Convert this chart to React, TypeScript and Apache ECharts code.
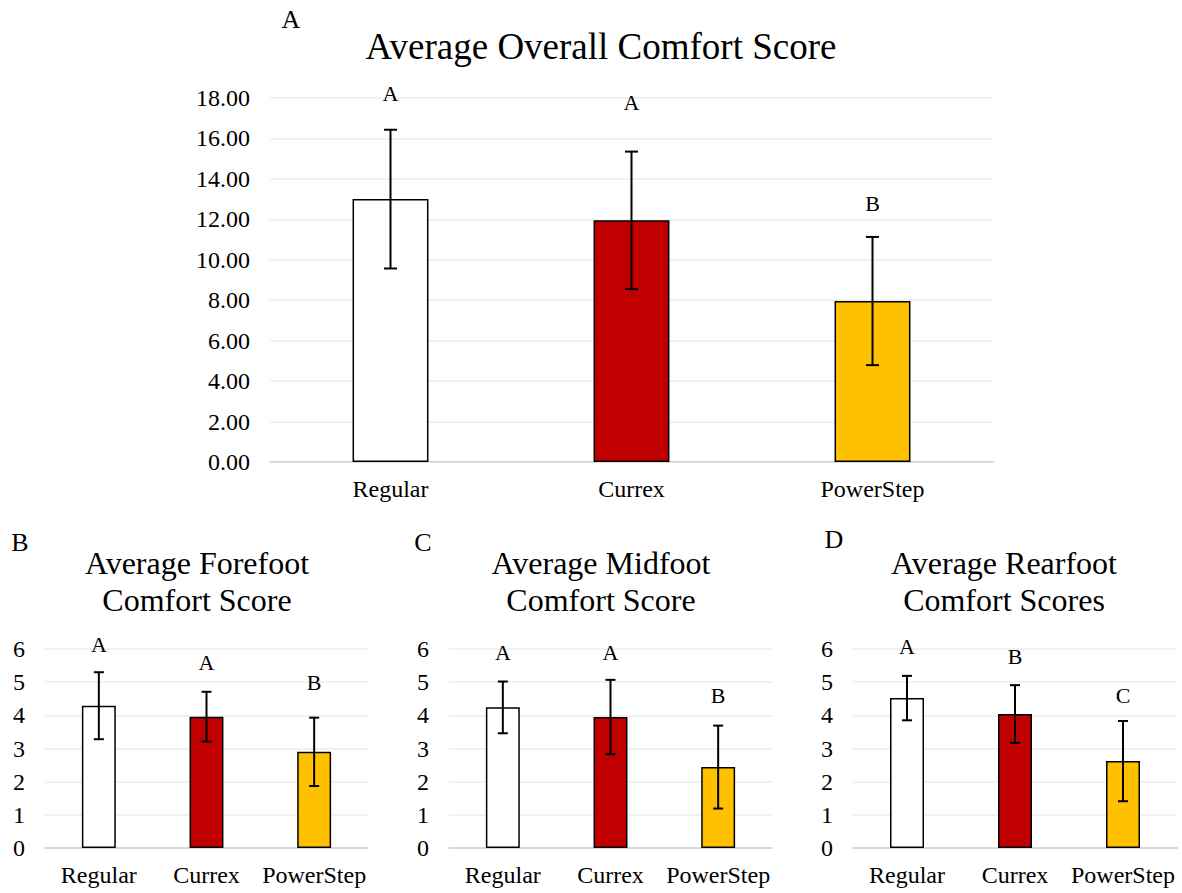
import React, { useEffect, useRef } from "react";
import * as echarts from "echarts";

const categories = ["Regular", "Currex", "PowerStep"];
const barColors = ["#FFFFFF", "#C00000", "#FFC000"];

const overallMeans = [13.0, 11.95, 7.96];
const overallErr = [3.43, 3.4, 3.17];
const overallLetters = ["A", "A", "B"];
const overallLetterY = [18.2, 17.8, 12.76];

const forefootMeans = [4.29, 3.96, 2.9];
const forefootErr = [1.01, 0.75, 1.03];
const forefootLetters = ["A", "A", "B"];
const forefootLetterY = [6.15, 5.59, 4.98];

const midfootMeans = [4.24, 3.95, 2.44];
const midfootErr = [0.78, 1.12, 1.25];
const midfootLetters = ["A", "A", "B"];
const midfootLetterY = [5.9, 5.9, 4.6];

const rearfootMeans = [4.52, 4.04, 2.62];
const rearfootErr = [0.67, 0.87, 1.21];
const rearfootLetters = ["A", "B", "C"];
const rearfootLetterY = [6.07, 5.77, 4.6];

const FONT = "'Liberation Serif', 'Times New Roman', serif";

const panels = [
  { means: overallMeans, err: overallErr, letters: overallLetters, letterY: overallLetterY, max: 18, interval: 2, decimals: 2, cap: 13,
    grid: { left: 270, top: 98, width: 723, height: 364 } },
  { means: forefootMeans, err: forefootErr, letters: forefootLetters, letterY: forefootLetterY, max: 6, interval: 1, decimals: 0, cap: 10,
    grid: { left: 45, top: 649, width: 323, height: 199 } },
  { means: midfootMeans, err: midfootErr, letters: midfootLetters, letterY: midfootLetterY, max: 6, interval: 1, decimals: 0, cap: 10,
    grid: { left: 449, top: 649, width: 323, height: 199 } },
  { means: rearfootMeans, err: rearfootErr, letters: rearfootLetters, letterY: rearfootLetterY, max: 6, interval: 1, decimals: 0, cap: 10,
    grid: { left: 853, top: 649, width: 324, height: 199 } },
];

function text(x: number, y: number, t: string, size: number) {
  return {
    type: "text",
    x,
    y,
    style: { text: t, fill: "#000", fontSize: size, fontFamily: FONT, align: "center", verticalAlign: "middle" },
  };
}

export default function App() {
  const ref = useRef<HTMLDivElement>(null);
  useEffect(() => {
    if (!ref.current) return;
    const chart = echarts.init(ref.current, null, { renderer: "svg" });
    const grids: any[] = [];
    const xAxes: any[] = [];
    const yAxes: any[] = [];
    const series: any[] = [];
    panels.forEach((p, k) => {
      grids.push({ ...p.grid, containLabel: false });
      xAxes.push({
        type: "category",
        gridIndex: k,
        data: categories,
        axisLine: { show: true, lineStyle: { color: "#d9d9d9", width: 2 } },
        axisTick: { show: false },
        axisLabel: { color: "#000", fontSize: 24, fontFamily: FONT, margin: 15, interval: 0, hideOverlap: false },
      });
      yAxes.push({
        type: "value",
        gridIndex: k,
        min: 0,
        max: p.max,
        interval: p.interval,
        axisLine: { show: false },
        axisTick: { show: false },
        splitLine: { lineStyle: { color: "#ececec", width: 1.5 } },
        axisLabel: {
          color: "#000",
          fontSize: 24,
          fontFamily: FONT,
          margin: 20,
          formatter: (v: number) => v.toFixed(p.decimals),
        },
      });
      series.push({
        type: "bar",
        xAxisIndex: k,
        yAxisIndex: k,
        barWidth: "31.5%",
        data: p.means.map((m, i) => ({
          value: m,
          itemStyle: { color: barColors[i], borderColor: "#000", borderWidth: 1.5 },
        })),
      });
      series.push({
        type: "custom",
        xAxisIndex: k,
        yAxisIndex: k,
        clip: false,
        z: 10,
        encode: { x: 0, y: [1, 2] },
        data: p.means.map((m, i) => [i, m - p.err[i], m + p.err[i], p.letterY[i]]),
        renderItem: (params: any, api: any) => {
          const i = api.value(0);
          const lo = api.coord([i, api.value(1)]);
          const hi = api.coord([i, api.value(2)]);
          const lb = api.coord([i, api.value(3)]);
          const c = p.cap / 2;
          const st = { stroke: "#000", lineWidth: 2 };
          return {
            type: "group",
            children: [
              { type: "line", shape: { x1: hi[0], y1: hi[1], x2: lo[0], y2: lo[1] }, style: st },
              { type: "line", shape: { x1: hi[0] - c, y1: hi[1], x2: hi[0] + c, y2: hi[1] }, style: st },
              { type: "line", shape: { x1: lo[0] - c, y1: lo[1], x2: lo[0] + c, y2: lo[1] }, style: st },
              {
                type: "text",
                x: lb[0],
                y: lb[1],
                style: {
                  text: p.letters[params.dataIndex],
                  fill: "#000",
                  fontSize: 22,
                  fontFamily: FONT,
                  align: "center",
                  verticalAlign: "middle",
                },
              },
            ],
          };
        },
      });
    });

    chart.setOption({
      animation: false,
      backgroundColor: "#fff",
      grid: grids,
      xAxis: xAxes,
      yAxis: yAxes,
      series,
      graphic: [
        text(291, 19, "A", 26),
        text(601, 46, "Average Overall Comfort Score", 37),
        text(20, 542, "B", 26),
        text(197, 563, "Average Forefoot", 32),
        text(197, 600, "Comfort Score", 32),
        text(423, 542, "C", 26),
        text(601, 563, "Average Midfoot", 32),
        text(601, 600, "Comfort Score", 32),
        text(834, 539, "D", 26),
        text(1004, 563, "Average Rearfoot", 32),
        text(1004, 600, "Comfort Scores", 32),
      ],
    });
    return () => chart.dispose();
  }, []);
  return (
    <div
      ref={ref}
      style={{ position: "absolute", left: 0, top: 0, width: 1182, height: 893, background: "#fff" }}
    />
  );
}
